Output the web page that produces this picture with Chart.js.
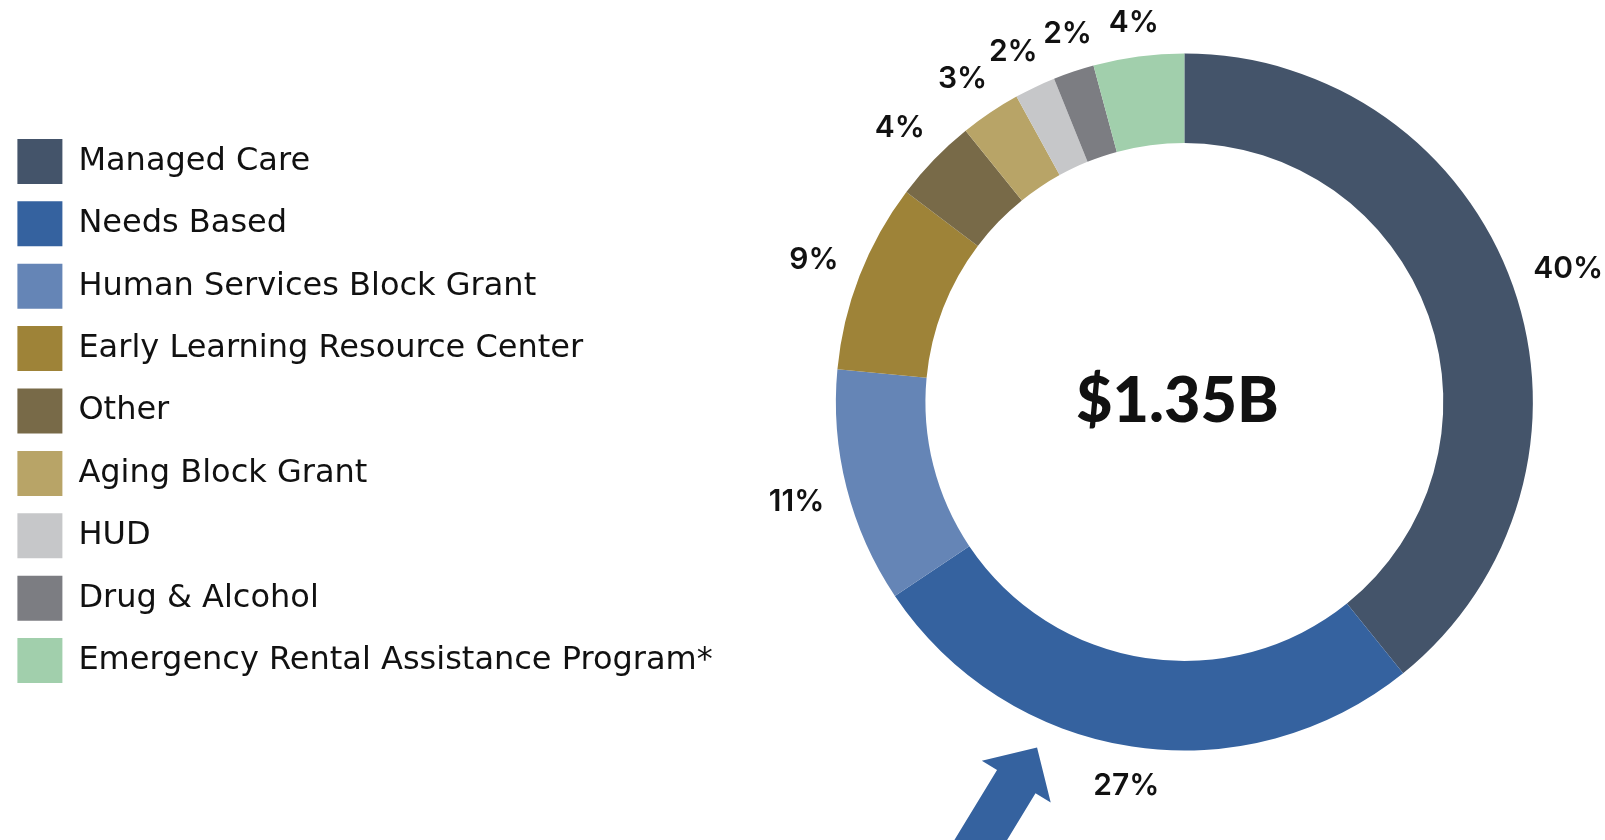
<!DOCTYPE html>
<html>
<head>
<meta charset="utf-8">
<script src="https://cdn.jsdelivr.net/npm/chart.js@4/dist/chart.umd.min.js"></script>
<style>
  html, body { margin: 0; padding: 0; background: #fff; overflow: hidden; }
  #wrap { width: 1605px; height: 840px; overflow: hidden; }
</style>
</head>
<body>
<div id="wrap"><canvas id="chart-funding" width="1646" height="840"></canvas></div>

<script>
    // funding sources, shares (percent of $1.35B)
    const categories = [
        'Managed Care',
        'Needs Based',
        'Human Services Block Grant',
        'Early Learning Resource Center',
        'Other',
        'Aging Block Grant',
        'HUD',
        'Drug & Alcohol',
        'Emergency Rental Assistance Program*'
    ];
    const shares = [39.2, 26.4, 10.9, 8.8, 3.9, 2.8, 1.9, 1.9, 4.2];
    const pctLabels = ['40%', '27%', '11%', '9%', '4%', '3%', '2%', '2%', '4%'];
    const colors = [
        '#44546a',
        '#35629f',
        '#6585b6',
        '#9e8338',
        '#786a48',
        '#b8a467',
        '#c6c7c9',
        '#7c7d82',
        '#a1cfac'
    ];
    const totalLabel = '$1.35B';

    // percent labels outside the ring, total in the hole, arrow at Needs Based
    const ringLabels = {
        id: 'ringLabels',
        afterDatasetsDraw(chart) {
            const ctx = chart.ctx;
            const arcs = chart.getDatasetMeta(0).data;
            ctx.save();
            ctx.fillStyle = '#111';
            ctx.textAlign = 'center';
            ctx.textBaseline = 'alphabetic';
            ctx.font = '600 30px Inter';
            const h = 22;
            const gap = 22;

            const items = arcs.map((arc, i) => {
                const p = arc.getProps(['x', 'y', 'startAngle', 'endAngle', 'outerRadius'], true);
                return {p: p, ang: (p.startAngle + p.endAngle) / 2, w: ctx.measureText(pctLabels[i]).width};
            });
            const radius = (it) => it.p.outerRadius + gap + Math.abs(Math.cos(it.ang)) * it.w / 2 + Math.abs(Math.sin(it.ang)) * h / 2;
            const extent = (it) => Math.abs(Math.sin(it.ang)) * it.w / 2 + Math.abs(Math.cos(it.ang)) * h / 2;

            // push neighbouring labels apart when they would touch
            for (let k = 0; k < 30; k++) {
                for (let i = 0; i < items.length - 1; i++) {
                    const a = items[i], b = items[i + 1];
                    const r = (radius(a) + radius(b)) / 2;
                    const need = (extent(a) + extent(b) + 4) / r;
                    const sep = b.ang - a.ang;
                    if (sep < need) {
                        a.ang -= (need - sep) / 2;
                        b.ang += (need - sep) / 2;
                    }
                }
            }
            items.forEach((it, i) => {
                const r = radius(it);
                ctx.fillText(pctLabels[i], it.p.x + Math.cos(it.ang) * r, it.p.y + Math.sin(it.ang) * r + h / 2);
            });

            const c = arcs[0].getProps(['x', 'y', 'outerRadius'], true);
            ctx.font = '900 63px Lato';
            ctx.fillText(totalLabel, c.x - 7, c.y + 20);

            // arrow
            const a = 113.1 * Math.PI / 180;
            const tx = c.x + Math.cos(a) * (c.outerRadius + 27);
            const ty = c.y + Math.sin(a) * (c.outerRadius + 27);
            const d = -58.7 * Math.PI / 180;
            const ux = Math.cos(d), uy = Math.sin(d);
            const nx = -uy, ny = ux;
            const pts = [[0, 0], [-40, 40.3], [-40, 22.5], [-170, 22.5], [-170, -22.5], [-40, -22.5], [-40, -40.3]];
            ctx.fillStyle = colors[1];
            ctx.beginPath();
            pts.forEach(([s, t], k) => {
                const x = tx + ux * s + nx * t;
                const y = ty + uy * s + ny * t;
                if (k === 0) ctx.moveTo(x, y); else ctx.lineTo(x, y);
            });
            ctx.closePath();
            ctx.fill();
            ctx.restore();
        }
    };

    const data = {
        labels: categories,
        datasets: [{
            data: shares,
            backgroundColor: colors,
            borderWidth: 0
        }]
    };

    const config = {
        type: 'doughnut',
        data: data,
        options: {
            responsive: false,
            animation: false,
            devicePixelRatio: 1,
            cutout: '74.3%',
            layout: {
                padding: {left: 0, right: 0, top: 53.5, bottom: 89.5}
            },
            plugins: {
                legend: {
                    position: 'left',
                    title: {display: true, text: '', padding: 0, font: {size: 15, lineHeight: 1.2}},
                    labels: {
                        boxWidth: 45,
                        boxHeight: 45,
                        padding: 17.4,
                        color: '#111',
                        font: {family: 'DejaVu Sans', size: 32}
                    }
                },
                tooltip: {enabled: false}
            }
        },
        plugins: [ringLabels]
    };

    var chartFunding = new Chart(
        document.getElementById('chart-funding'),
        config
    );
</script>
</body>
</html>
